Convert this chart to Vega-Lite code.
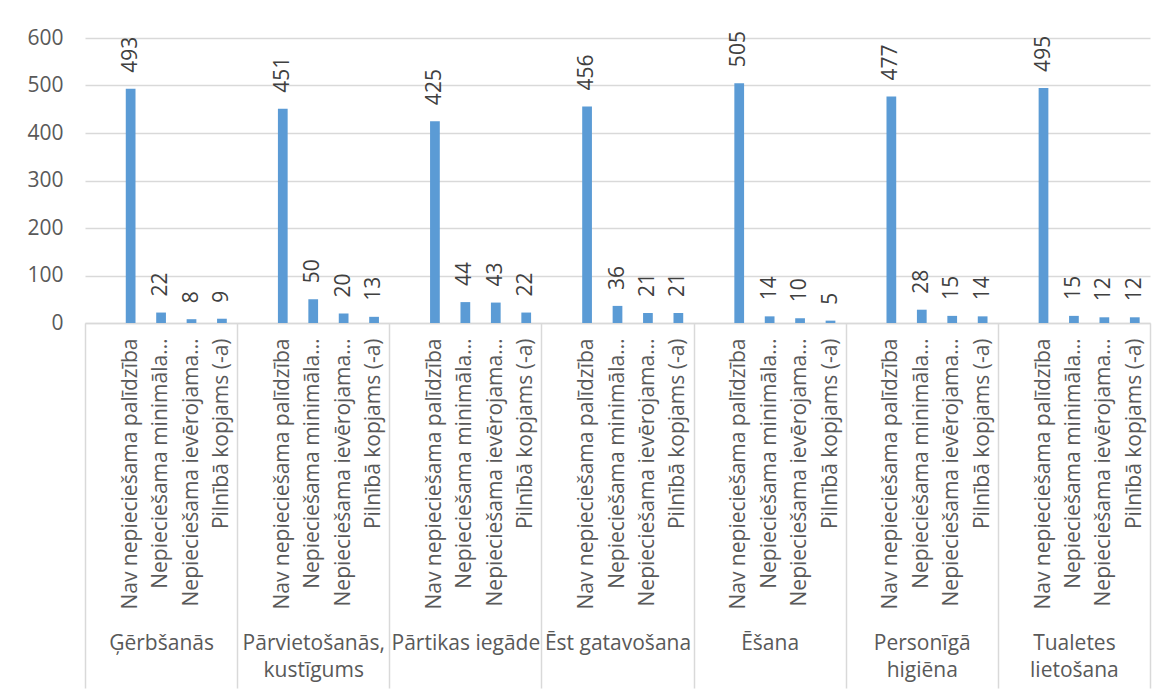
{
  "$schema": "https://vega.github.io/schema/vega-lite/v6.json",
  "autosize": {"type": "none"},
  "padding": {"left": 85, "top": 38, "right": 18, "bottom": 368},
  "width": 1065,
  "height": 285,
  "background": "white",
  "config": {"view": {"stroke": null}, "font": "Open Sans"},
  "data": {"values": [
    {"group": "Ģērbšanās", "sub": "Nav nepieciešama palīdzība", "key": "Ģērbšanās|1|Nav nepieciešama palīdzība", "value": 493},
    {"group": "Ģērbšanās", "sub": "Nepieciešama minimāla…", "key": "Ģērbšanās|2|Nepieciešama minimāla…", "value": 22},
    {"group": "Ģērbšanās", "sub": "Nepieciešama ievērojama…", "key": "Ģērbšanās|3|Nepieciešama ievērojama…", "value": 8},
    {"group": "Ģērbšanās", "sub": "Pilnībā kopjams (-a)", "key": "Ģērbšanās|4|Pilnībā kopjams (-a)", "value": 9},
    {"group": "Pārvietošanās, kustīgums", "sub": "Nav nepieciešama palīdzība", "key": "Pārvietošanās, kustīgums|1|Nav nepieciešama palīdzība", "value": 451},
    {"group": "Pārvietošanās, kustīgums", "sub": "Nepieciešama minimāla…", "key": "Pārvietošanās, kustīgums|2|Nepieciešama minimāla…", "value": 50},
    {"group": "Pārvietošanās, kustīgums", "sub": "Nepieciešama ievērojama…", "key": "Pārvietošanās, kustīgums|3|Nepieciešama ievērojama…", "value": 20},
    {"group": "Pārvietošanās, kustīgums", "sub": "Pilnībā kopjams (-a)", "key": "Pārvietošanās, kustīgums|4|Pilnībā kopjams (-a)", "value": 13},
    {"group": "Pārtikas iegāde", "sub": "Nav nepieciešama palīdzība", "key": "Pārtikas iegāde|1|Nav nepieciešama palīdzība", "value": 425},
    {"group": "Pārtikas iegāde", "sub": "Nepieciešama minimāla…", "key": "Pārtikas iegāde|2|Nepieciešama minimāla…", "value": 44},
    {"group": "Pārtikas iegāde", "sub": "Nepieciešama ievērojama…", "key": "Pārtikas iegāde|3|Nepieciešama ievērojama…", "value": 43},
    {"group": "Pārtikas iegāde", "sub": "Pilnībā kopjams (-a)", "key": "Pārtikas iegāde|4|Pilnībā kopjams (-a)", "value": 22},
    {"group": "Ēst gatavošana", "sub": "Nav nepieciešama palīdzība", "key": "Ēst gatavošana|1|Nav nepieciešama palīdzība", "value": 456},
    {"group": "Ēst gatavošana", "sub": "Nepieciešama minimāla…", "key": "Ēst gatavošana|2|Nepieciešama minimāla…", "value": 36},
    {"group": "Ēst gatavošana", "sub": "Nepieciešama ievērojama…", "key": "Ēst gatavošana|3|Nepieciešama ievērojama…", "value": 21},
    {"group": "Ēst gatavošana", "sub": "Pilnībā kopjams (-a)", "key": "Ēst gatavošana|4|Pilnībā kopjams (-a)", "value": 21},
    {"group": "Ēšana", "sub": "Nav nepieciešama palīdzība", "key": "Ēšana|1|Nav nepieciešama palīdzība", "value": 505},
    {"group": "Ēšana", "sub": "Nepieciešama minimāla…", "key": "Ēšana|2|Nepieciešama minimāla…", "value": 14},
    {"group": "Ēšana", "sub": "Nepieciešama ievērojama…", "key": "Ēšana|3|Nepieciešama ievērojama…", "value": 10},
    {"group": "Ēšana", "sub": "Pilnībā kopjams (-a)", "key": "Ēšana|4|Pilnībā kopjams (-a)", "value": 5},
    {"group": "Personīgā higiēna", "sub": "Nav nepieciešama palīdzība", "key": "Personīgā higiēna|1|Nav nepieciešama palīdzība", "value": 477},
    {"group": "Personīgā higiēna", "sub": "Nepieciešama minimāla…", "key": "Personīgā higiēna|2|Nepieciešama minimāla…", "value": 28},
    {"group": "Personīgā higiēna", "sub": "Nepieciešama ievērojama…", "key": "Personīgā higiēna|3|Nepieciešama ievērojama…", "value": 15},
    {"group": "Personīgā higiēna", "sub": "Pilnībā kopjams (-a)", "key": "Personīgā higiēna|4|Pilnībā kopjams (-a)", "value": 14},
    {"group": "Tualetes lietošana", "sub": "Nav nepieciešama palīdzība", "key": "Tualetes lietošana|1|Nav nepieciešama palīdzība", "value": 495},
    {"group": "Tualetes lietošana", "sub": "Nepieciešama minimāla…", "key": "Tualetes lietošana|2|Nepieciešama minimāla…", "value": 15},
    {"group": "Tualetes lietošana", "sub": "Nepieciešama ievērojama…", "key": "Tualetes lietošana|3|Nepieciešama ievērojama…", "value": 12},
    {"group": "Tualetes lietošana", "sub": "Pilnībā kopjams (-a)", "key": "Tualetes lietošana|4|Pilnībā kopjams (-a)", "value": 12}
  ]},
  "layer": [
    {
      "mark": {"type": "bar", "color": "#5b9bd5", "width": {"band": 0.32}},
      "encoding": {
        "x": {
          "field": "key", "type": "nominal",
          "scale": {
            "paddingInner": 0, "paddingOuter": 0,
            "domain": [
              "Ģērbšanās|0|", "Ģērbšanās|1|Nav nepieciešama palīdzība", "Ģērbšanās|2|Nepieciešama minimāla…", "Ģērbšanās|3|Nepieciešama ievērojama…", "Ģērbšanās|4|Pilnībā kopjams (-a)",
              "Pārvietošanās, kustīgums|0|", "Pārvietošanās, kustīgums|1|Nav nepieciešama palīdzība", "Pārvietošanās, kustīgums|2|Nepieciešama minimāla…", "Pārvietošanās, kustīgums|3|Nepieciešama ievērojama…", "Pārvietošanās, kustīgums|4|Pilnībā kopjams (-a)",
              "Pārtikas iegāde|0|", "Pārtikas iegāde|1|Nav nepieciešama palīdzība", "Pārtikas iegāde|2|Nepieciešama minimāla…", "Pārtikas iegāde|3|Nepieciešama ievērojama…", "Pārtikas iegāde|4|Pilnībā kopjams (-a)",
              "Ēst gatavošana|0|", "Ēst gatavošana|1|Nav nepieciešama palīdzība", "Ēst gatavošana|2|Nepieciešama minimāla…", "Ēst gatavošana|3|Nepieciešama ievērojama…", "Ēst gatavošana|4|Pilnībā kopjams (-a)",
              "Ēšana|0|", "Ēšana|1|Nav nepieciešama palīdzība", "Ēšana|2|Nepieciešama minimāla…", "Ēšana|3|Nepieciešama ievērojama…", "Ēšana|4|Pilnībā kopjams (-a)",
              "Personīgā higiēna|0|", "Personīgā higiēna|1|Nav nepieciešama palīdzība", "Personīgā higiēna|2|Nepieciešama minimāla…", "Personīgā higiēna|3|Nepieciešama ievērojama…", "Personīgā higiēna|4|Pilnībā kopjams (-a)",
              "Tualetes lietošana|0|", "Tualetes lietošana|1|Nav nepieciešama palīdzība", "Tualetes lietošana|2|Nepieciešama minimāla…", "Tualetes lietošana|3|Nepieciešama ievērojama…", "Tualetes lietošana|4|Pilnībā kopjams (-a)"
            ]
          },
          "axis": {
            "orient": "bottom",
            "title": null,
            "labelExpr": "isString(datum.value) ? split(datum.value, '|')[2] : ''",
            "labelAngle": 270,
            "labelFontSize": 21,
            "labelColor": "#595959",
            "labelPadding": 15,
            "labelLimit": 400,
            "labelOverlap": false,
            "ticks": false,
            "domain": true,
            "domainColor": "#d9d9d9",
            "domainWidth": 1.5
          }
        },
        "y": {
          "field": "value", "type": "quantitative",
          "scale": {"domain": [0, 600], "nice": false},
          "axis": {
            "title": null,
            "values": [0, 100, 200, 300, 400, 500, 600],
            "grid": true,
            "gridColor": "#d9d9d9",
            "gridWidth": 1.5,
            "domain": false,
            "ticks": false,
            "labelFontSize": 21,
            "labelColor": "#595959",
            "labelPadding": 22
          }
        }
      }
    },
    {
      "mark": {"type": "text", "angle": 270, "align": "left", "baseline": "middle", "dx": 16, "fontSize": 21, "color": "#404040"},
      "encoding": {
        "x": {
          "field": "key", "type": "nominal",
          "scale": {"paddingInner": 0, "paddingOuter": 0},
          "axis": {
            "orient": "bottom",
            "title": null,
            "domain": false,
            "ticks": true,
            "tickBand": "extent",
            "tickSize": 365,
            "tickColor": "#d9d9d9",
            "tickWidth": 1.5,
            "tickOpacity": {"condition": {"test": "datum.extra || (isString(datum.value) && split(datum.value, '|')[1] == '4')", "value": 1}, "value": 0},
            "labelExpr": "isString(datum.value) && split(datum.value, '|')[1] == '2' ? (length(split(datum.value, '|')[0]) > 15 ? split(split(datum.value, '|')[0], ' ') : split(datum.value, '|')[0]) : ''",
            "labelAngle": 0,
            "labelAlign": "center",
            "labelBaseline": "top",
            "labelFontSize": 21,
            "labelLineHeight": 27,
            "labelColor": "#595959",
            "labelPadding": -56,
            "labelLimit": 300,
            "labelOverlap": false,
            "labelBound": false
          }
        },
        "y": {"field": "value", "type": "quantitative"},
        "text": {"field": "value", "type": "quantitative"}
      }
    }
  ],
  "resolve": {"axis": {"x": "independent"}}
}
